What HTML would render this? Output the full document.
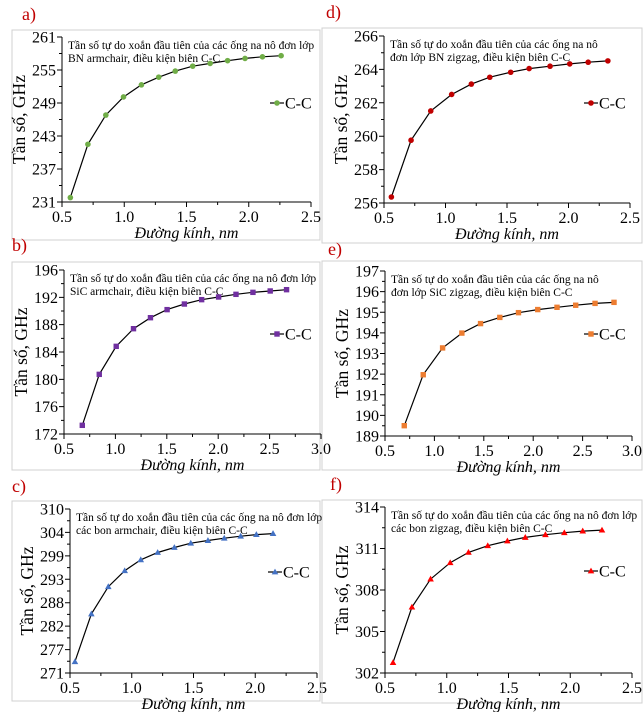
<!DOCTYPE html>
<html><head><meta charset="utf-8">
<style>
body{margin:0;background:#fff;}
svg{display:block;font-family:"Liberation Serif","Times New Roman",serif;}
</style></head>
<body>
<svg id="chart" width="644" height="712" viewBox="0 0 644 712" xmlns="http://www.w3.org/2000/svg"></svg>
<script>
const aX=[0.567,0.708,0.852,0.994,1.138,1.277,1.41,1.55,1.69,1.83,1.97,2.11,2.26];
const aY=[231.8,241.5,246.8,250.1,252.3,253.7,254.8,255.7,256.2,256.7,257.1,257.4,257.6];
const aYTicks=["231","237","243","249","255","261"];
const aXTicks=["0.5","1.0","1.5","2.0","2.5"];
const bX=[0.678,0.843,1.008,1.176,1.341,1.503,1.671,1.839,2.004,2.173,2.338,2.506,2.665];
const bY=[173.27,180.73,184.83,187.41,189.02,190.2,191.02,191.66,192.05,192.44,192.73,192.93,193.12];
const bYTicks=["172","176","180","184","188","192","196"];
const bXTicks=["0.5","1.0","1.5","2.0","2.5","3.0"];
const cX=[0.54,0.673,0.81,0.943,1.073,1.21,1.345,1.478,1.617,1.749,1.882,2.009,2.144];
const cY=[273.68,285.05,291.53,295.32,297.92,299.66,300.84,301.87,302.5,303.05,303.53,303.92,304.16];
const cYTicks=["271","277","282","288","293","299","304","310"];
const cXTicks=["0.5","1.0","1.5","2.0","2.5"];
const dX=[0.56,0.72,0.88,1.05,1.21,1.36,1.53,1.68,1.85,2.01,2.16,2.32];
const dY=[256.36,259.76,261.51,262.5,263.12,263.53,263.83,264.05,264.19,264.33,264.43,264.51];
const dYTicks=["256","258","260","262","264","266"];
const dXTicks=["0.5","1.0","1.5","2.0","2.5"];
const eX=[0.695,0.887,1.083,1.278,1.467,1.662,1.851,2.046,2.241,2.43,2.626,2.818];
const eY=[189.5,191.97,193.27,193.99,194.45,194.75,194.98,195.13,195.24,195.34,195.43,195.48];
const eYTicks=["189","190","191","192","193","194","195","196","197"];
const eXTicks=["0.5","1.0","1.5","2.0","2.5","3.0"];
const fX=[0.565,0.718,0.869,1.028,1.176,1.332,1.491,1.636,1.799,1.952,2.101,2.257];
const fY=[302.75,306.76,308.79,309.97,310.72,311.2,311.54,311.8,312.0,312.14,312.26,312.33];
const fYTicks=["302","305","308","311","314"];
const fXTicks=["0.5","1.0","1.5","2.0","2.5"];

const NS="http://www.w3.org/2000/svg";
const svg=document.getElementById('chart');
function mk(tag,attrs,parent,txt){const e=document.createElementNS(NS,tag);for(const k in attrs)e.setAttribute(k,attrs[k]);if(txt!==undefined)e.textContent=txt;(parent||svg).appendChild(e);return e;}

function marker(g,shape,color,cx,cy){
  let m;
  if(shape==='circle'){m=mk('circle',{cx:cx,cy:cy,r:2.8,fill:color},g);}
  else if(shape==='square'){m=mk('rect',{x:cx-2.7,y:cy-2.7,width:5.4,height:5.4,fill:color},g);}
  else {m=mk('polygon',{points:`${cx},${cy-3.4} ${cx+3.3},${cy+2.4} ${cx-3.3},${cy+2.4}`,fill:color},g);}
  return m;
}

function panel(p){
  const g=mk('g',{});
  
  
  const fr=mk('rect',{x:p.fx,y:p.fy,width:p.fw,height:p.fh,fill:'none',stroke:'#d0d0d0','stroke-width':1},g);
  
  
  const lab=mk('text',{x:p.lx,y:p.ly,'font-size':18,fill:'#c00000'},g,p.id+')');
  
  
  const xmin=parseFloat(p.xt[0]),xmax=parseFloat(p.xt[p.xt.length-1]);
  const ymin=parseFloat(p.yt[0]),ymax=parseFloat(p.yt[p.yt.length-1]);
  const sx=v=>p.L+(v-xmin)/(xmax-xmin)*(p.R-p.L);
  const sy=v=>p.B-(v-ymin)/(ymax-ymin)*(p.B-p.T);
  const ax=mk('path',{d:`M${p.L},${p.T} V${p.B} H${p.R}`,fill:'none',stroke:'#000','stroke-width':1},g);
  
  
  const ny=p.yt.length-1, nx=p.xt.length-1;
  let td='';
  for(let i=0;i<=ny;i++){const y=p.B-i*(p.B-p.T)/ny;td+=`M${p.L-5},${y}H${p.L}`;if(i<ny){const y2=y-(p.B-p.T)/ny/2;td+=`M${p.L-3},${y2}H${p.L}`;}}
  for(let i=0;i<=nx;i++){const x=p.L+i*(p.R-p.L)/nx;td+=`M${x},${p.B}V${p.B+5}`;if(i<nx){const x2=x+(p.R-p.L)/nx/2;td+=`M${x2},${p.B}V${p.B+3}`;}}
  const tk=mk('path',{d:td,stroke:'#000','stroke-width':1,fill:'none'},g);
  
  
  p.yt.forEach((t,i)=>{const y=p.B-i*(p.B-p.T)/ny;const e=mk('text',{x:p.L-6,y:y+5.5,'font-size':16,'text-anchor':'end'},g,t);
    
    });
  p.xt.forEach((t,i)=>{const x=p.L+i*(p.R-p.L)/nx;const e=mk('text',{x:x,y:p.B+20,'font-size':16,'text-anchor':'middle'},g,t);
    
    });
  const yt=mk('text',{x:0,y:0,'font-size':17.5,'text-anchor':'middle',transform:`translate(${p.L-37},${(p.T+p.B)/2}) rotate(-90)`},g,'Tần số, GHz');
  
  
  const xtt=mk('text',{x:(p.L+p.R)/2,y:p.B+36,'font-size':16,'font-style':'italic','text-anchor':'middle'},g,'Đường kính, nm');
  
  
  const n1=mk('text',{x:p.L+6,y:p.T+12,'font-size':11.5},g,p.n1);
  
  
  const n2=mk('text',{x:p.L+6,y:p.T+25,'font-size':11.5},g,p.n2);
  
  
  const pts=p.xs.map((v,i)=>`${sx(v).toFixed(1)},${sy(p.ys[i]).toFixed(1)}`).join(' ');
  const ln=mk('polyline',{points:pts,fill:'none',stroke:'#000','stroke-width':1.2},g);
  
  
  p.xs.forEach((v,i)=>{const m=marker(g,p.shape,p.color,sx(v),sy(p.ys[i]));
    
    });
  const lg=mk('g',{},g);
  
  
  mk('line',{x1:p.gx,y1:p.gy,x2:p.gx+14,y2:p.gy,stroke:'#000','stroke-width':1.2},lg);
  marker(lg,p.shape,p.color,p.gx+7,p.gy);
  mk('text',{x:p.gx+15,y:p.gy+5.5,'font-size':16},lg,'C-C');
}

panel({id:'a',fx:12,fy:30,fw:308,fh:210,lx:22,ly:20,L:62,R:311,T:37,B:202,xt:aXTicks,yt:aYTicks,xs:aX,ys:aY,shape:'circle',color:'#70ad47',gx:270,gy:103,
  n1:'Tần số tự do xoắn đầu tiên của các ống na nô đơn lớp',n2:'BN armchair, điều kiện biên C-C'});
panel({id:'b',fx:12,fy:262,fw:308,fh:208,lx:12,ly:251,L:64,R:321,T:270,B:434,xt:bXTicks,yt:bYTicks,xs:bX,ys:bY,shape:'square',color:'#7030a0',gx:270,gy:334,
  n1:'Tần số tự do xoắn đầu tiên của các ống na nô đơn lớp',n2:'SiC armchair, điều kiện biên C-C'});
panel({id:'c',fx:12,fy:501,fw:308,fh:200,lx:12,ly:492,L:70,R:317,T:509,B:673,xt:cXTicks,yt:cYTicks,xs:cX,ys:cY,shape:'triangle',color:'#4472c4',gx:268,gy:572,
  n1:'Tần số tự do xoắn đầu tiên của các ống na nô đơn lớp',n2:'các bon armchair, điều kiện biên C-C'});
panel({id:'d',fx:322,fy:28,fw:320,fh:215,lx:326,ly:18,L:384,R:630,T:36,B:203,xt:dXTicks,yt:dYTicks,xs:dX,ys:dY,shape:'circle',color:'#c00000',gx:584,gy:103,
  n1:'Tần số tự do xoắn đầu tiên của các ống na nô',n2:'đơn lớp BN zigzag, điều kiện biên C-C'});
panel({id:'e',fx:322,fy:261,fw:320,fh:209,lx:328,ly:255,L:385,R:632,T:271,B:436,xt:eXTicks,yt:eYTicks,xs:eX,ys:eY,shape:'square',color:'#ed7d31',gx:584,gy:334,
  n1:'Tần số tự do xoắn đầu tiên của các ống na nô',n2:'đơn lớp SiC zigzag, điều kiện biên C-C'});
panel({id:'f',fx:322,fy:500,fw:320,fh:203,lx:330,ly:490,L:385,R:632,T:507,B:673,xt:fXTicks,yt:fYTicks,xs:fX,ys:fY,shape:'triangle',color:'#ff0000',gx:584,gy:571,
  n1:'Tần số tự do xoắn đầu tiên của các ống na nô đơn lớp',n2:'các bon zigzag, điều kiện biên C-C'});
</script>
</body></html>
